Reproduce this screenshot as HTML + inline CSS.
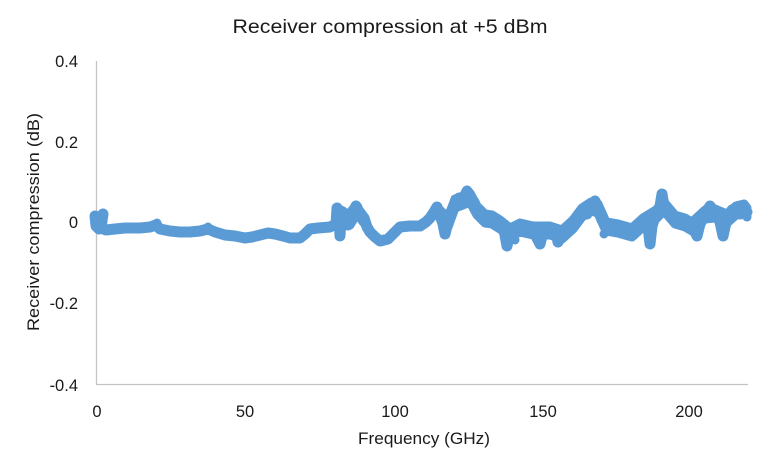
<!DOCTYPE html>
<html>
<head>
<meta charset="utf-8">
<style>
  html, body { margin: 0; padding: 0; background: #ffffff; }
  svg { display: block; }
  text { font-family: "Liberation Sans", "DejaVu Sans", sans-serif; fill: #1a1a1a; }
</style>
</head>
<body>
<svg width="779" height="468" viewBox="0 0 779 468" xmlns="http://www.w3.org/2000/svg">
  <rect x="0" y="0" width="779" height="468" fill="#ffffff"/>

  <!-- Title -->
  <text x="390" y="33" font-size="19.5" text-anchor="middle" textLength="315" lengthAdjust="spacingAndGlyphs">Receiver compression at +5 dBm</text>

  <!-- Axes -->
  <line x1="96.5" y1="61" x2="96.5" y2="384.5" stroke="#c4c4c4" stroke-width="1.3"/>
  <line x1="96" y1="384.5" x2="748" y2="384.5" stroke="#c4c4c4" stroke-width="1.3"/>

  <!-- Y tick labels -->
  <g font-size="16.5" text-anchor="end">
    <text x="78" y="67">0.4</text>
    <text x="78" y="148">0.2</text>
    <text x="78" y="228">0</text>
    <text x="78" y="309">-0.2</text>
    <text x="78" y="391">-0.4</text>
  </g>

  <!-- X tick labels -->
  <g font-size="16.5" text-anchor="middle">
    <text x="97" y="417">0</text>
    <text x="245" y="417">50</text>
    <text x="395" y="417">100</text>
    <text x="543" y="417">150</text>
    <text x="689" y="417">200</text>
  </g>

  <!-- Axis titles -->
  <text x="424" y="444" font-size="16.5" text-anchor="middle" textLength="132" lengthAdjust="spacingAndGlyphs">Frequency (GHz)</text>
  <text transform="translate(39,222) rotate(-90)" x="0" y="0" font-size="16.5" text-anchor="middle" textLength="218" lengthAdjust="spacingAndGlyphs">Receiver compression (dB)</text>

  <!-- Data series -->
  <g fill="none" stroke="#5b9bd5" stroke-linecap="round" stroke-linejoin="round">
    <polyline stroke-width="11" points="95,216 96,226 99,229 103,214 101,228 106,230 115,229 125,228 140,228 150,227 156,225 160,229 170,231 180,232 190,232 200,231 208,229 215,232 225,235 235,236 245,238 252,237 260,235 268,233 275,234 283,236 290,238 300,238 305,234 310,229 318,228 330,227 336,224 337,208 339,215 340,236 341,218 343,214 345,218 348,225 350,220 353,212 356,206 358,210 361,214 364,218 367,227 370,232 375,237 380,241 388,239 395,232 400,227 410,226 420,226 426,222 430,218 434,212 437,207 440,214 443,224 445,234 448,222 451,212 455,203 459,198 463,200 467,191 470,197 474,202 477,210 480,214 485,218 492,219 500,224 504,230 507,246 510,232 515,228 520,227 526,232 533,230 540,244 543,232 550,230 556,232 558,242 562,234 568,228 573,224 578,216 582,212 587,214 591,206 595,201 598,208 602,220 606,226 612,226 618,228 625,227 632,232 638,230 643,222 647,218 650,244 652,226 656,214 660,206 662,194 664,206 668,214 675,219 685,222 692,226 697,236 700,224 705,214 710,206 715,213 720,222 723,236 727,218 732,210 736,210 740,214 744,208 747,212"/>
    <!-- thickening for noisy regions -->
    <polyline stroke-width="9" transform="translate(0,5)" points="336,222 339,215 341,218 345,218 350,220 356,210 361,214 364,218"/>
    <polyline stroke-width="9" transform="translate(0,-3)" points="336,222 339,212 343,214 348,218 353,212 358,210"/>
    <polyline stroke-width="9" transform="translate(0,5)" points="440,214 448,222 455,203 463,200 470,197 477,210 485,218 492,219 500,224 510,232 520,227 533,230 550,230 562,234 573,224 582,212 591,206 598,208 606,226 618,228 632,232 643,222 656,214 664,206 675,219 685,222 692,226 705,214 715,213 727,218 736,210 744,208 747,212"/>
    <polyline stroke-width="9" transform="translate(0,-4)" points="440,214 448,222 455,203 463,200 470,197 477,210 485,218 492,219 500,224 510,232 520,227 533,230 550,230 562,234 573,224 582,212 591,206 598,208 606,226 618,228 632,232 643,222 656,214 664,206 675,219 685,222 692,226 705,214 715,213 727,218 736,210 744,208 747,212"/>
  </g>
  <g fill="#5b9bd5">
    <circle cx="103" cy="213" r="4.5"/>
    <circle cx="157" cy="223" r="4.5"/>
    <circle cx="208" cy="227" r="4.5"/>
    <circle cx="337" cy="207" r="4.5"/>
    <circle cx="356" cy="205" r="4.5"/>
    <circle cx="467" cy="190" r="4.5"/>
    <circle cx="507" cy="246" r="4.5"/>
    <circle cx="540" cy="244" r="4.5"/>
    <circle cx="558" cy="242" r="4.5"/>
    <circle cx="595" cy="200" r="4.5"/>
    <circle cx="650" cy="244" r="4.5"/>
    <circle cx="662" cy="194" r="4.5"/>
    <circle cx="697" cy="236" r="4.5"/>
    <circle cx="723" cy="236" r="4.5"/>
    <circle cx="604" cy="234" r="4.5"/>
    <circle cx="515" cy="240" r="4.5"/>
  </g>
</svg>
</body>
</html>
